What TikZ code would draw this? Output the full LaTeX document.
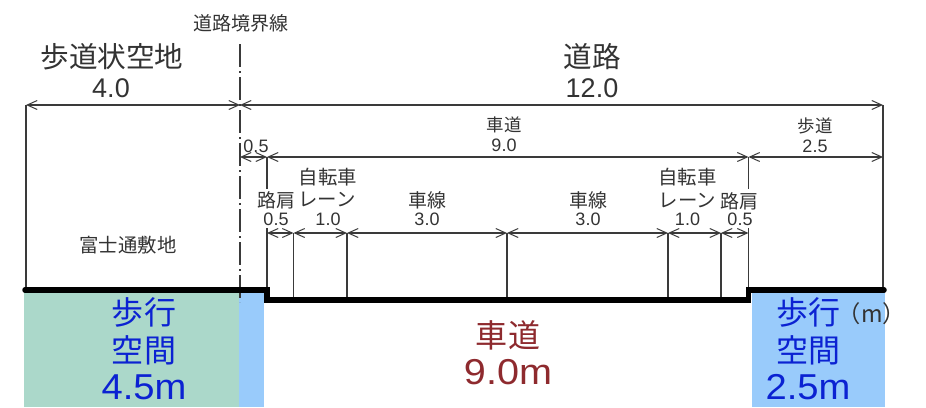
\documentclass[tikz,border=0pt]{standalone}
\usepackage{fontspec}
\setmainfont{Liberation Sans}
\newfontfamily\jpf{Noto Sans CJK JP}[Scale=0.97]
\usetikzlibrary{arrows.meta}
\definecolor{linegrey}{HTML}{3A3A3A}
\definecolor{txtgrey}{HTML}{333333}
\definecolor{walkgreen}{HTML}{ABD8CA}
\definecolor{walkblue}{HTML}{99CBFB}
\definecolor{bluetxt}{HTML}{0B22D2}
\definecolor{redtxt}{HTML}{8E2A2E}
\tikzset{
  dimline/.style={draw=linegrey,line width=1.1pt,{Straight Barb[length=10pt,width=9pt,line width=1pt]}-{Straight Barb[length=10pt,width=9pt,line width=1pt]}},
  tickline/.style={draw=linegrey,line width=1.1pt},
  ground/.style={draw=black,line width=5.5pt,line cap=round,line join=miter},
  lbl/.style={inner sep=0pt,text=txtgrey,font=\fontsize{#1}{#1}\selectfont},
  jp/.style={inner sep=0pt,text=txtgrey,font=\fontsize{#1}{#1}\selectfont\jpf},
  bluelbl/.style={inner sep=0pt,text=bluetxt,font=\fontsize{#1}{#1}\selectfont\jpf},
  bluenum/.style={inner sep=0pt,text=bluetxt,font=\fontsize{#1}{#1}\selectfont},
  redlbl/.style={inner sep=0pt,text=redtxt,font=\fontsize{#1}{#1}\selectfont\jpf},
  rednum/.style={inner sep=0pt,text=redtxt,font=\fontsize{#1}{#1}\selectfont},
}
\begin{document}
\begin{tikzpicture}[x=1pt,y=-1pt]
\useasboundingbox (0,0) rectangle (926,407);
% fills
\fill[walkgreen] (24,292) rectangle (239,407);
\fill[walkblue] (239,292) rectangle (264,407);
\fill[walkblue] (751.5,292) rectangle (885,407);
% named coordinates
\coordinate (L0) at (26,105); \coordinate (B0) at (240,105); \coordinate (R0) at (883,105);
\coordinate (L1) at (26,290); \coordinate (R1) at (883,290);
\coordinate (B1) at (240,157); \coordinate (C1) at (267,157); \coordinate (D1) at (748.5,157); \coordinate (R2) at (883,157);
\coordinate (C2) at (267,233); \coordinate (a2) at (293.5,233); \coordinate (b2) at (347,233);
\coordinate (c2) at (507,233); \coordinate (d2) at (668,233); \coordinate (e2) at (721,233); \coordinate (D2) at (748.5,233);
\coordinate (C3) at (267,290); \coordinate (a3) at (293.5,298); \coordinate (b3) at (347,298);
\coordinate (c3) at (507,298); \coordinate (d3) at (668,298); \coordinate (e3) at (721,298); \coordinate (D3) at (748.5,290);
\coordinate (Ctop) at (267,189); \coordinate (Dtop) at (748.5,189);
\coordinate (Cbot) at (267,228); \coordinate (Dbot) at (748.5,228);
\coordinate (Btop) at (240,44); \coordinate (Bbot) at (240,302);
% extension lines
\draw[tickline] (L0)--(L1);
\draw[tickline] (R0)--(R1);
\draw[tickline] (C1)--(Ctop);
\draw[tickline] (Cbot)--(C3);
\draw[tickline] (D1)--(Dtop);
\draw[tickline] (Dbot)--(D3);
\foreach \p in {a,b,c,d,e}{\draw[tickline] (\p2)--(\p3);}
% boundary line
\draw[draw=linegrey,line width=1.7pt,dash pattern=on 23pt off 4pt on 2pt off 4pt] (Btop)--(Bbot);
% dimensions
\draw[dimline] (L0)--(B0);
\draw[dimline] (B0)--(R0);
\draw[dimline] (B1)--(C1);
\draw[dimline] (C1)--(D1);
\draw[dimline] (D1)--(R2);
\draw[dimline] (C2)--(a2);
\draw[dimline] (a2)--(b2);
\draw[dimline] (b2)--(c2);
\draw[dimline] (c2)--(d2);
\draw[dimline] (d2)--(e2);
\draw[dimline] (e2)--(D2);
% ground
\draw[ground] (25,290) -- (267,290) -- (267,300) -- (748.5,300) -- (748.5,290) -- (884,290);
% labels
\node[jp=29.5] (sidewalklike) at (112,57) {歩道状空地};
\node[jp=19.6] (boundary) at (241,23) {道路境界線};
\node[lbl=27] (n40) at (111,88) {4.0};
\node[jp=29.5] (road) at (592,57) {道路};
\node[lbl=27] (n120) at (592,88) {12.0};
\node[jp=18] (cardw) at (504,125) {車道};
\node[lbl=18] (n90) at (504,145) {9.0};
\node[jp=18] (walk) at (815,126) {歩道};
\node[lbl=18] (n25) at (815,146) {2.5};
\node[lbl=18] (n05a) at (256,146) {0.5};
\node[jp=20] (bikeA) at (328,177) {自転車};
\node[jp=20] (laneA) at (327,199) {レーン};
\node[lbl=18] (n10a) at (328,219) {1.0};
\node[jp=19.5] (shoulderA) at (276,200) {路肩};
\node[lbl=18] (n05b) at (276,219) {0.5};
\node[jp=19.5] (carlaneA) at (427,200) {車線};
\node[lbl=18] (n30a) at (427,219) {3.0};
\node[jp=19.5] (carlaneB) at (588,200) {車線};
\node[lbl=18] (n30b) at (588,219) {3.0};
\node[jp=20] (bikeB) at (687.5,177) {自転車};
\node[jp=20] (laneB) at (687.5,200) {レーン};
\node[lbl=18] (n10b) at (687.5,219) {1.0};
\node[jp=19.5] (shoulderB) at (739,201) {路肩};
\node[lbl=18] (n05c) at (740,219) {0.5};
\node[jp=20] (fujitsu) at (128,245) {富士通敷地};
\node[bluelbl=33] (wsA) at (144,312) {歩行};
\node[bluelbl=33] (wsB) at (144,350) {空間};
\node[bluenum=36] (w45) at (144,387) {\scalebox{1.06}[1]{4.5m}};
\node[redlbl=33] (cw) at (508,335) {車道};
\node[rednum=36] (w90) at (508,372) {\scalebox{1.1}[1]{9.0m}};
\node[bluelbl=33] (wsC) at (808,312) {歩行};
\node[bluelbl=33] (wsD) at (808,350) {空間};
\node[bluenum=36] (w25) at (808,387) {\scalebox{1.06}[1]{2.5m}};
\node[jp=24] (unit) at (872,314) {（m）};
\end{tikzpicture}
\end{document}
